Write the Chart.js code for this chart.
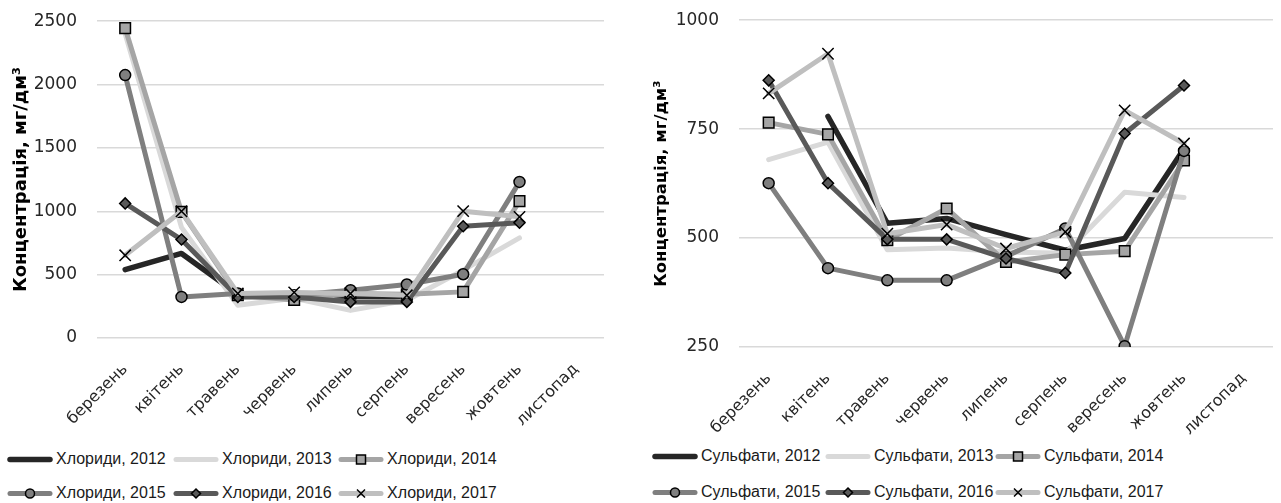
<!DOCTYPE html>
<html><head><meta charset="utf-8">
<script src="https://cdn.jsdelivr.net/npm/chart.js@4/dist/chart.umd.min.js"></script>
<style>
body{margin:0;background:#fff;width:1281px;height:503px;overflow:hidden;position:relative}
#c1{position:absolute;left:0;top:-9px}
#c2{position:absolute;left:640px;top:-10px}
.leg{position:absolute;display:flex;align-items:center;height:16px;white-space:nowrap;
  font-family:"Liberation Sans",sans-serif;font-size:16px;color:#1a1a1a}
.leg svg{display:block;margin-right:3px}
</style>
</head><body>
<canvas id="c1" width="640" height="449"></canvas>
<canvas id="c2" width="641" height="450"></canvas>
<div id="legends"></div>
<script>
// ---- data ----
const months = ['березень','квітень','травень','червень','липень','серпень','вересень','жовтень','листопад'];
const years = ['2012','2013','2014','2015','2016','2017'];

const chl2012 = [540, 667, 345, 340, 330, 325, null, null, null];
const chl2013 = [2400, 873, 258, 313, 218, 298, 535, 790, null];
const chl2014 = [2445, 995, 337, 300, 352, 345, 364, 1080, null];
const chl2015 = [2075, 324, 351, 337, 377, 422, 503, 1232, null];
const chl2016 = [1062, 777, 324, 324, 285, 285, 882, 909, null];
const chl2017 = [653, 1000, 351, 360, 351, 337, 1001, 956, null];

const sul2012 = [null, 779, 534, 545, 508, 472, 499, 705, null];
const sul2013 = [680, 720, 473, 477, 468, 465, 605, 593, null];
const sul2014 = [765, 738, 495, 568, 445, 462, 470, 678, null];
const sul2015 = [626, 431, 403, 403, 458, 522, 252, 700, null];
const sul2016 = [862, 626, 497, 497, 453, 420, 740, 850, null];
const sul2017 = [832, 923, 510, 531, 476, 514, 793, 717, null];

const chlTicks = {min: 0, max: 2500, step: 500};
const sulTicks = {min: 250, max: 1000, step: 250};

// ---- styles ----
const styles = [
  {color:'#262626', width:5.5, point:false},
  {color:'#d9d9d9', width:5, point:false},
  {color:'#a5a5a5', width:5, point:'rect', r:7.5, fill:'#a5a5a5'},
  {color:'#7f7f7f', width:5, point:'circle', r:5.5, fill:'#7f7f7f'},
  {color:'#595959', width:5, point:'rectRot', r:5.5, fill:'#595959'},
  {color:'#bfbfbf', width:5, point:'crossRot', r:8, fill:'#000'}
];

function makeDatasets(prefix, series){
  return series.map((d,i)=>{
    const s = styles[i];
    return {
      label: prefix + ', ' + years[i],
      data: d,
      borderColor: s.color,
      backgroundColor: s.color,
      borderWidth: s.width,
      borderJoinStyle:'round',
      borderCapStyle:'round',
      tension:0,
      order: 6 - i,
      pointStyle: s.point || 'circle',
      pointRadius: s.point ? s.r : 0,
      pointHoverRadius: s.point ? s.r : 0,
      pointBackgroundColor: s.fill,
      pointBorderColor: '#000',
      pointBorderWidth: 1.5
    };
  });
}

function makeChart(id, prefix, series, tk, g){
  return new Chart(document.getElementById(id), {
    type:'line',
    data:{labels: months, datasets: makeDatasets(prefix, series)},
    options:{
      responsive:false, animation:false, devicePixelRatio:1,
      layout:{autoPadding:false, padding:{left:0, right:g.padRight, top:0, bottom:0}},
      plugins:{legend:{display:false}, tooltip:{enabled:false}},
      scales:{
        x:{
          offset:true,
          grid:{display:false, drawTicks:false},
          border:{display:false},
          ticks:{minRotation:45, maxRotation:45, padding:g.xPad, color:'#262626',
                 font:{family:'DejaVu Sans', size:16}},
          afterFit:(s)=>{ s.height = g.xH; }
        },
        y:{
          min:tk.min, max:tk.max,
          grid:{color:'#d9d9d9', lineWidth:1.5, drawTicks:false},
          border:{display:false},
          ticks:{stepSize:tk.step, padding:20, color:'#262626',
                 font:{family:'DejaVu Sans', size:17},
                 callback:(v)=>String(v)},
          title:{display:true, text:'Концентрація, мг/дм³', color:'#000',
                 font:{family:'DejaVu Sans', weight:'bold', size:g.titleSize, lineHeight:1},
                 padding:{top:g.titlePad}},
          afterFit:(s)=>{ s.width = g.yW; }
        }
      }
    }
  });
}

makeChart('c1', 'Хлориди', [chl2012,chl2013,chl2014,chl2015,chl2016,chl2017], chlTicks,
  {padRight:36, xH:102, yW:97, xPad:22, titleSize:18, titlePad:12});
makeChart('c2', 'Сульфати', [sul2012,sul2013,sul2014,sul2015,sul2016,sul2017], sulTicks,
  {padRight:8, xH:93, yW:99, xPad:22, titleSize:16.5, titlePad:13});

// ---- legends (HTML) ----
function sampleSvg(s){
  let m = '';
  if (s.point==='rect') m = '<rect x="18.5" y="3" width="9" height="9" fill="'+s.fill+'" stroke="#000" stroke-width="1.5"/>';
  if (s.point==='circle') m = '<circle cx="23" cy="7.5" r="4.5" fill="'+s.fill+'" stroke="#000" stroke-width="1.5"/>';
  if (s.point==='rectRot') m = '<path d="M23 3 L27.5 7.5 L23 12 L18.5 7.5 Z" fill="'+s.fill+'" stroke="#000" stroke-width="1.5"/>';
  if (s.point==='crossRot') m = '<path d="M19 3.5 L27 11.5 M27 3.5 L19 11.5" stroke="#000" stroke-width="1.5"/>';
  return '<svg width="46" height="15"><line x1="3" y1="7.5" x2="43" y2="7.5" stroke="'+s.color+
    '" stroke-width="'+s.width+'" stroke-linecap="round"/>'+m+'</svg>';
}
function legend(prefix, xs, ys){
  let html='';
  for (let i=0;i<6;i++){
    const col=i%3, row=Math.floor(i/3);
    html += '<div class="leg" style="left:'+xs[col]+'px;top:'+(ys[row]-8)+'px">'+
      sampleSvg(styles[i])+'<span>'+prefix+', '+years[i]+'</span></div>';
  }
  return html;
}
document.getElementById('legends').innerHTML =
  legend('Хлориди', [7,173,338], [459,493]) +
  legend('Сульфати', [652,825,995], [456,492]);
</script>
</body></html>
